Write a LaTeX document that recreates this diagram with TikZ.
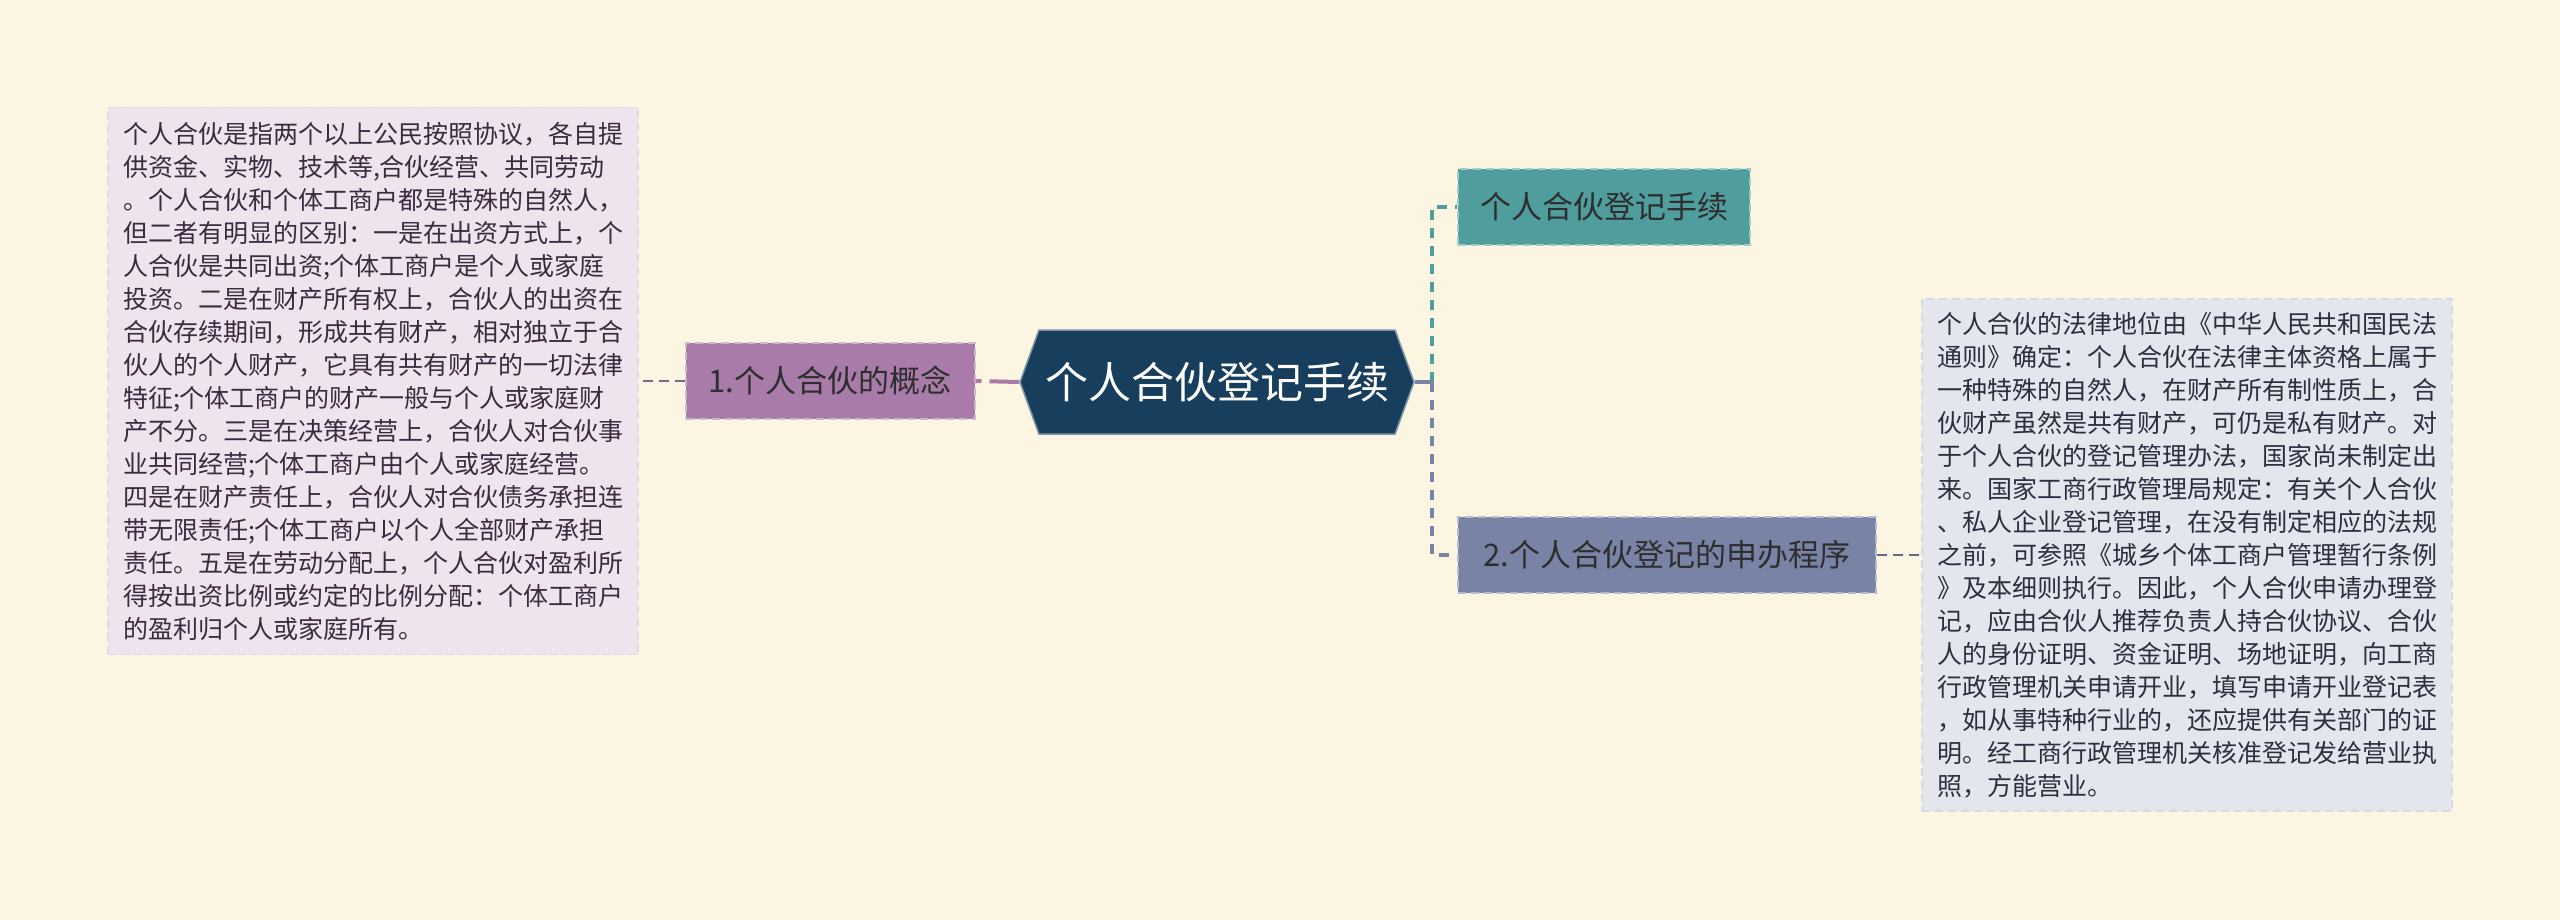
\documentclass[tikz,border=0pt]{standalone}
\usepackage{fontspec}
\setmainfont{Noto Sans CJK SC}
\usetikzlibrary{shapes.symbols,positioning}
\definecolor{bgCream}{HTML}{FBF5E1}
\definecolor{hubNavy}{HTML}{173E5C}
\definecolor{mmPurple}{HTML}{A87BA9}
\definecolor{mmTeal}{HTML}{4F9E9D}
\definecolor{mmSlate}{HTML}{7883A6}
\definecolor{noteLilac}{HTML}{EEE4EE}
\definecolor{noteGrey}{HTML}{E4E6EE}
\definecolor{inkPurple}{HTML}{3C2A40}
\definecolor{inkSlate}{HTML}{2B3040}
\definecolor{inkDark}{HTML}{2E2E2E}

\begin{document}
\begin{tikzpicture}[x=1pt, y=-1pt,
  hub/.style={signal, signal to=west and east, signal pointer angle=140, fill=hubNavy, draw=hubNavy!55, line width=1.5pt, text=white, font=\fontsize{43}{43}\selectfont, minimum width=394pt, minimum height=104pt, inner sep=0pt},
  branch/.style={rectangle, dash pattern=on 8pt off 5pt, line width=2pt, text=inkDark, font=\fontsize{31}{31}\selectfont, minimum height=76pt, inner sep=0pt},
  note/.style={rectangle, dash pattern=on 8pt off 5pt, line width=1.5pt, font=\fontsize{25}{33}\selectfont, align=left, text width=500pt, inner xsep=15pt, inner ysep=0pt},
  link/.style={dash pattern=on 10pt off 6pt, line width=2pt},
]
% ---- canvas ----
\fill[bgCream] (0,0) rectangle (2560,920);
\useasboundingbox (0,0) rectangle (2560,920);
% ---- centre ----
\node[hub] (hub) at (1217,382) {个人合伙登记手续};
% ---- branches ----
\node[branch, fill=mmPurple, draw=mmPurple!55!white, minimum width=289pt] (concept) at (830,381) {1.个人合伙的概念};
\node[branch, fill=mmTeal, draw=mmTeal!55!white, minimum width=292pt] (register) at (1604,207) {个人合伙登记手续};
\node[branch, fill=mmSlate, draw=mmSlate!55!white, minimum width=418pt] (procedure) at (1667,555) {2.个人合伙登记的申办程序};
% ---- notes ----
\node[note, fill=noteLilac, draw=mmPurple!30!white, text=inkPurple, minimum height=547pt] (conceptNote) at (373,381) {%
个人合伙是指两个以上公民按照协议，各自提\\
供资金、实物、技术等,合伙经营、共同劳动\\
。个人合伙和个体工商户都是特殊的自然人，\\
但二者有明显的区别：一是在出资方式上，个\\
人合伙是共同出资;个体工商户是个人或家庭\\
投资。二是在财产所有权上，合伙人的出资在\\
合伙存续期间，形成共有财产，相对独立于合\\
伙人的个人财产，它具有共有财产的一切法律\\
特征;个体工商户的财产一般与个人或家庭财\\
产不分。三是在决策经营上，合伙人对合伙事\\
业共同经营;个体工商户由个人或家庭经营。\\
四是在财产责任上，合伙人对合伙债务承担连\\
带无限责任;个体工商户以个人全部财产承担\\
责任。五是在劳动分配上，个人合伙对盈利所\\
得按出资比例或约定的比例分配：个体工商户\\
的盈利归个人或家庭所有。};
\node[note, fill=noteGrey, draw=mmSlate!30!white, text=inkSlate, minimum height=512pt] (procNote) at (2187,555) {%
个人合伙的法律地位由《中华人民共和国民法\\
通则》确定：个人合伙在法律主体资格上属于\\
一种特殊的自然人，在财产所有制性质上，合\\
伙财产虽然是共有财产，可仍是私有财产。对\\
于个人合伙的登记管理办法，国家尚未制定出\\
来。国家工商行政管理局规定：有关个人合伙\\
、私人企业登记管理，在没有制定相应的法规\\
之前，可参照《城乡个体工商户管理暂行条例\\
》及本细则执行。因此，个人合伙申请办理登\\
记，应由合伙人推荐负责人持合伙协议、合伙\\
人的身份证明、资金证明、场地证明，向工商\\
行政管理机关申请开业，填写申请开业登记表\\
，如从事特种行业的，还应提供有关部门的证\\
明。经工商行政管理机关核准登记发给营业执\\
照，方能营业。};
% ---- connectors ----
\coordinate (fork) at (1432,382);
\draw[mmPurple, line width=4pt, dash pattern=on 6pt off 8pt on 60pt off 0pt] (concept.east) -- (hub.west);
\draw[mmPurple!80!black, link] (concept.west) -- (conceptNote.east);
\draw[mmSlate, line width=4pt] (hub.east) -- (fork);
\draw[mmTeal, line width=3.5pt, dash pattern=on 10pt off 8pt] (fork) |- (register.west);
\draw[mmSlate, line width=3.5pt, dash pattern=on 10pt off 8pt] (fork) |- (procedure.west);
\draw[mmSlate!80!black, link] (procedure.east) -- (procNote.west);
\end{tikzpicture}
\end{document}
